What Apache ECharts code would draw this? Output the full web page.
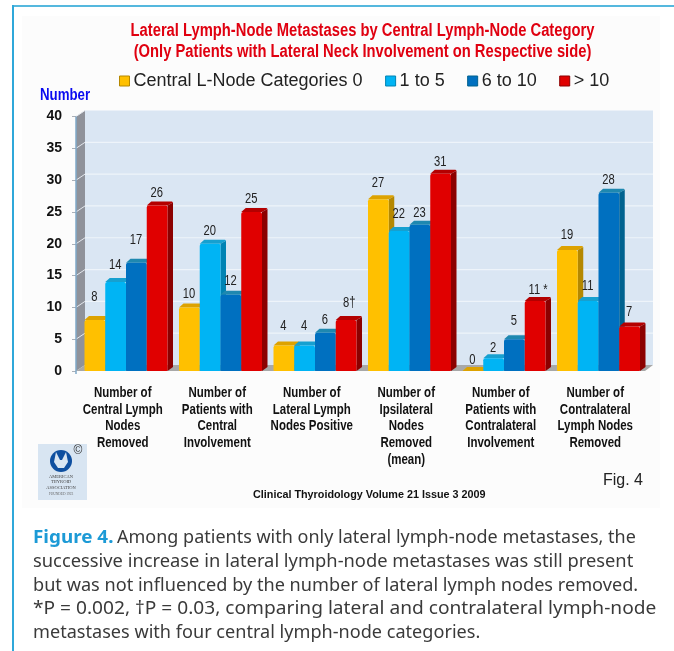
<!DOCTYPE html>
<html><head><meta charset="utf-8">
<style>html,body{margin:0;padding:0;background:#fff}#c{width:674px;height:651px}</style>
<script src="https://cdn.jsdelivr.net/npm/echarts@6/dist/echarts.min.js"></script>
</head><body><div id="c"></div>
<script>
const categories = [
  "Number of\nCentral Lymph\nNodes\nRemoved",
  "Number of\nPatients with\nCentral\nInvolvement",
  "Number of\nLateral Lymph\nNodes Positive",
  "Number of\nIpsilateral\nNodes\nRemoved\n(mean)",
  "Number of\nPatients with\nContralateral\nInvolvement",
  "Number of\nContralateral\nLymph Nodes\nRemoved"
];
const nodes0    = [8, 10, 4, 27, 0, 19];
const nodes1to5 = [14, 20, 4, 22, 2, 11];
const nodes6to10= [17, 12, 6, 23, 5, 28];
const nodesOver10=[26, 25, 8, 31, 11, 7];
const seriesNames = ["Central L-Node Categories 0", "1 to 5", "6 to 10", "> 10"];
const labelSuffix = {3: {2: "\u2020", 4: " *"}};
const yTicks = [0, 5, 10, 15, 20, 25, 30, 35, 40];

// styling
const palette = [
  {front:"#FFC000", side:"#B58800", top:"#DDA200"},
  {front:"#00B4F4", side:"#0083B3", top:"#16A0D0"},
  {front:"#0070C0", side:"#00628F", top:"#1E88B0"},
  {front:"#E00000", side:"#8C0000", top:"#B40000"}
];
const labelLift = [
  [23, 13, 19, 16, 11, 15],
  [17, 13, 19, 17, 10, 15],
  [23, 14, 13, 12, 18, 13],
  [12, 13, 17, 12, 11, 14]
];
const SANS = '"Liberation Sans",Arial,sans-serif';
const DX = 5.5, DY = 4, BAR_FRAC = 83 / 94.5 / 4, WALL_X = 9, WALL_Y = 6;

function barSeries(values, i) {
  return {
    type: "custom",
    name: seriesNames[i],
    z: 3 + i,
    itemStyle: {color: palette[i].front},
    clip: false,
    data: values.map((v, c) => [c, v]),
    renderItem(params, api) {
      const cat = api.value(0), val = api.value(1);
      const base = api.coord([cat, 0]), top = api.coord([cat, val]);
      const band = api.size([1, 0])[0], w = band * BAR_FRAC;
      const x0 = base[0] + DX / 2 - 2 * w + i * w, x1 = x0 + w;
      const yB = base[1], yT = top[1];
      const p = palette[i];
      const suffix = (labelSuffix[i] || {})[cat] || "";
      const children = [
        {type:"polygon", shape:{points:[[x0,yT],[x0+DX-1,yT-DY],[x1+DX-1,yT-DY],[x1+DX,yT-DY+1],[x1,yT]]}, style:{fill:p.top}},
        {type:"polygon", shape:{points:[[x1,yB],[x1,yT],[x1+DX,yT-DY+1],[x1+DX,yB-DY]]}, style:{fill:p.side}}
      ];
      if (val > 0) children.push({type:"rect", shape:{x:x0,y:yT,width:w,height:yB-yT,r:[2,2,1,1]}, style:{fill:p.front}});
      children.push({type:"text", z2:50, x:(x0+x1)/2 + (suffix ? 3 : -0.5), y:yT - labelLift[i][cat], scaleX:0.8,
        style:{text: val + suffix, align:"center", verticalAlign:"middle", font:'14px '+SANS, fill:"#222"}});
      return {type:"group", children};
    }
  };
}

const wallSeries = {
  type:"custom", name:"wall", z:1, silent:true, clip:false, data:[[0,0]],
  renderItem(params, api) {
    const cs = params.coordSys;
    const L = cs.x, R = cs.x + cs.width, T = cs.y, B = cs.y + cs.height;
    const children = [
      {type:"rect", shape:{x:L+WALL_X,y:T-WALL_Y,width:R-L+1,height:B-T}, style:{fill:"#DAE6F3"}},
      {type:"polygon", shape:{points:[[L,T],[L+WALL_X,T-WALL_Y],[L+WALL_X,B-WALL_Y],[L,B]]}, style:{fill:"#8F929A"}},
      {type:"polygon", shape:{points:[[L,B],[L+WALL_X,B-WALL_Y],[R+WALL_X+1,B-WALL_Y],[R+2,B]]}, style:{fill:"#A8A8A8"}}
    ];
    yTicks.slice(1).forEach(t => {
      const y = api.coord([0, t])[1];
      if (t < 40) children.push({type:"line", shape:{x1:L+WALL_X,y1:y-WALL_Y,x2:R+WALL_X+1,y2:y-WALL_Y}, style:{stroke:"#EEF4FA",lineWidth:1.2}});
      children.push({type:"line", shape:{x1:L,y1:y,x2:L+WALL_X,y2:y-WALL_Y}, style:{stroke:"#E4E8EE",lineWidth:1}});
    });
    children.push({type:"line", shape:{x1:L,y1:T,x2:L,y2:B+3}, style:{stroke:"#7FA8C8",lineWidth:1.5}});
    return {type:"group", children};
  }
};

const categoryLabelSeries = {
  type:"custom", name:"categoryLabels", z:2, silent:true, clip:false,
  data: categories.map((c, i) => [i]),
  renderItem(params, api) {
    const i = api.value(0), p = api.coord([i, 0]);
    return {type:"text", x:p[0] - 0.5, y:p[1] + 13.7, scaleX:0.82,
      style:{text:categories[i], align:"center", verticalAlign:"top", lineHeight:16.67,
        font:'bold 14px '+SANS, fill:"#111"}};
  }
};

const captionLines = [
  [{t:"Figure 4.", bold:true, s:1.06}, {t:"Among patients with only lateral lymph-node metastases, the", x:117, s:1.012}],
  [{t:"successive increase in lateral lymph-node metastases was still present", s:1.03}],
  [{t:"but was not influenced by the number of lateral lymph nodes removed.", s:1.02}],
  [{t:"*P = 0.002, \u2020P = 0.03, comparing lateral and contralateral lymph-node", s:1.076}],
  [{t:"metastases with four central lymph-node categories.", s:1.018}]
];
const captionY = [538, 562, 586, 609, 633];
const CAP = '"Noto Sans",sans-serif';
function narrowText(text, x, y, align, font, fill, scaleX) {
  return {type:"text", x, y, scaleX, style:{text, align, verticalAlign:"middle", font, fill}};
}
const graphics = [
  {type:"rect", z:-10, shape:{x:22,y:16,width:638,height:492}, style:{fill:"#FCFCFC"}},
  {type:"rect", shape:{x:12,y:5,width:662,height:2}, style:{fill:"#55B8DE"}},
  {type:"rect", shape:{x:12,y:5,width:2,height:646}, style:{fill:"#2FA8DA"}},
  narrowText("Lateral Lymph-Node Metastases by Central Lymph-Node Category", 362.5, 31, "center", 'bold 18px '+SANS, "#E00010", 0.82),
  narrowText("(Only Patients with Lateral Neck Involvement on Respective side)", 362.5, 52, "center", 'bold 18px '+SANS, "#E00010", 0.82),
  narrowText("Number", 40, 96, "left", 'bold 16px '+SANS, "#0A0AF0", 0.83),
  {type:"text", style:{text:"Clinical Thyroidology Volume 21 Issue 3 2009", x:253, y:495, align:"left", verticalAlign:"middle", font:'bold 10.8px '+SANS, fill:"#111"}},
  {type:"text", style:{text:"Fig. 4", x:603, y:481, align:"left", verticalAlign:"middle", font:'16px '+SANS, fill:"#222"}},
  // society logo
  {type:"rect", shape:{x:38,y:444,width:49,height:56}, style:{fill:"#D8E5F2"}},
  {type:"circle", shape:{cx:61,cy:461,r:11}, style:{fill:"#0E4FA0"}},
  {type:"polygon", shape:{points:[[56,452],[60,460],[62,460],[66,452],[68,462],[64,468],[58,468],[54,462]]}, style:{fill:"#D8E5F2"}},
  {type:"text", style:{text:"\u00A9", x:78, y:451, align:"center", verticalAlign:"middle", font:'12px '+SANS, fill:"#333"}},
  {type:"text", style:{text:"AMERICAN\nTHYROID\nASSOCIATION", x:61, y:482, align:"center", verticalAlign:"middle", lineHeight:5.5, font:'4.5px "Liberation Serif"', fill:"#444"}},
  {type:"text", style:{text:"FOUNDED 1923", x:61, y:494, align:"center", verticalAlign:"middle", font:'3.5px "Liberation Serif"', fill:"#666"}}
];
captionLines.forEach((line, n) => line.forEach(seg => graphics.push(
  narrowText(seg.t, seg.x || 33, captionY[n], "left", (seg.bold ? "bold " : "") + '17.8px ' + CAP, seg.bold ? "#1C9AD6" : "#3A3A3A", seg.s))));

const chart = echarts.init(document.getElementById("c"), null, {renderer:"canvas"});
chart.setOption({
  animation:false,
  backgroundColor:"#fff",
  legend:{
    data: seriesNames.map((n, i) => ({name:n, icon:"rect", itemStyle:{color:palette[i].front, borderColor:palette[i].side, borderWidth:1}})),
    left:114, top:67, itemWidth:10, itemHeight:10, itemGap:22.5,
    textStyle:{fontFamily:SANS, fontSize:18, color:"#222", padding:[0,0,0,-1]}
  },
  grid:{left:76, top:116.5, width:567, height:254.5, containLabel:false},
  xAxis:{type:"category", data:categories, boundaryGap:true,
    axisLine:{show:false}, axisTick:{show:false}, splitLine:{show:false}, axisLabel:{show:false}},
  yAxis:{type:"value", min:0, max:40, interval:5,
    axisLine:{show:false}, axisTick:{show:true, length:4, lineStyle:{color:"#AAB0B8"}}, splitLine:{show:false},
    axisLabel:{margin:14, padding:[2,0,0,0], fontFamily:SANS, fontWeight:"bold", fontSize:14, color:"#111"}},
  graphic:{elements:graphics},
  series:[wallSeries, categoryLabelSeries, barSeries(nodes0,0), barSeries(nodes1to5,1), barSeries(nodes6to10,2), barSeries(nodesOver10,3)]
});
</script></body></html>
